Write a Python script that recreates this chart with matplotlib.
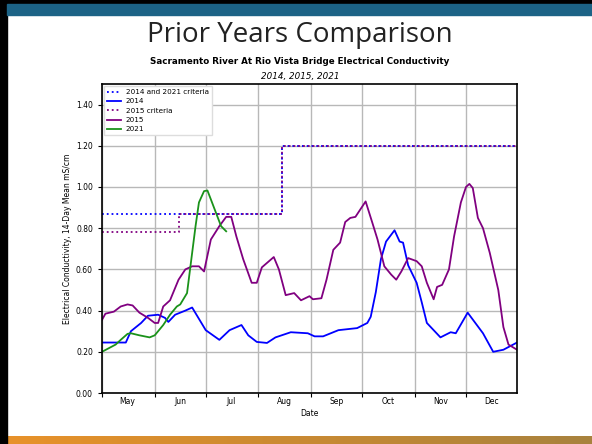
import numpy as np
import pandas as pd
import matplotlib
matplotlib.use("Agg")
import matplotlib.pyplot as plt
import matplotlib.dates as mdates
from matplotlib.patches import Rectangle
from matplotlib.colors import LinearSegmentedColormap

# values (month-day, mS/cm)
days_2014 = ["05-01", "05-15", "05-18", "05-24", "05-28", "06-03", "06-07", "06-09",
             "06-13", "06-19", "06-23", "06-27", "07-01", "07-09", "07-15", "07-22",
             "07-26", "07-31", "08-06", "08-11", "08-20", "08-30", "09-03", "09-08",
             "09-17", "09-28", "10-04", "10-06", "10-09", "10-12", "10-15", "10-20",
             "10-23", "10-25", "10-28", "11-02", "11-05", "11-08", "11-16", "11-22",
             "11-25", "12-02", "12-11", "12-17", "12-23", "12-31"]
ec_2014 = [0.245, 0.245, 0.30, 0.34, 0.375, 0.38, 0.365, 0.345,
           0.38, 0.40, 0.415, 0.36, 0.305, 0.258, 0.305, 0.33,
           0.28, 0.248, 0.243, 0.27, 0.295, 0.29, 0.275, 0.275,
           0.305, 0.315, 0.34, 0.37, 0.49, 0.65, 0.735, 0.79,
           0.735, 0.73, 0.62, 0.535, 0.44, 0.34, 0.27, 0.295,
           0.29, 0.39, 0.29, 0.20, 0.21, 0.245]

days_2015 = ["05-01", "05-03", "05-08", "05-12", "05-16", "05-19", "05-23", "05-28",
             "06-01", "06-03", "06-06", "06-10", "06-15", "06-19", "06-23", "06-27",
             "06-30", "07-04", "07-09", "07-13", "07-16", "07-19", "07-23", "07-28",
             "07-31", "08-03", "08-10", "08-13", "08-17", "08-22", "08-26", "08-31",
             "09-02", "09-07", "09-10", "09-14", "09-18", "09-21", "09-24", "09-27",
             "10-03", "10-07", "10-10", "10-14", "10-18", "10-21", "10-24", "10-28",
             "11-02", "11-05", "11-08", "11-12", "11-14", "11-17", "11-21", "11-24",
             "11-28", "12-01", "12-03", "12-05", "12-08", "12-11", "12-15", "12-20",
             "12-23", "12-26", "12-31"]
ec_2015 = [0.355, 0.385, 0.395, 0.42, 0.43, 0.425, 0.39, 0.365,
           0.34, 0.34, 0.42, 0.45, 0.55, 0.60, 0.615, 0.615,
           0.59, 0.745, 0.81, 0.855, 0.855, 0.76, 0.65, 0.535,
           0.535, 0.61, 0.66, 0.60, 0.475, 0.485, 0.45, 0.47,
           0.455, 0.46, 0.55, 0.695, 0.73, 0.83, 0.85, 0.855,
           0.93, 0.825, 0.745, 0.615, 0.575, 0.55, 0.59, 0.655,
           0.64, 0.615, 0.535, 0.455, 0.515, 0.525, 0.60, 0.76,
           0.925, 1.00, 1.015, 0.995, 0.85, 0.80, 0.68, 0.50,
           0.32, 0.235, 0.21]

days_2021 = ["05-01", "05-09", "05-12", "05-16", "05-18", "05-23", "05-29", "06-01",
             "06-06", "06-10", "06-14", "06-16", "06-20", "06-23", "06-25", "06-27",
             "06-30", "07-02", "07-04", "07-07", "07-10", "07-13"]
ec_2021 = [0.20, 0.235, 0.258, 0.287, 0.29, 0.28, 0.27, 0.28,
           0.33, 0.38, 0.42, 0.43, 0.485, 0.68, 0.81, 0.925,
           0.98, 0.983, 0.94, 0.875, 0.81, 0.785]

crit_days_14_21 = ["05-01", "08-15", "12-31"]
crit_14_21 = [0.87, 1.20, 1.20]
crit_days_15 = ["05-01", "06-15", "08-15", "12-31"]
crit_15 = [0.78, 0.87, 1.20, 1.20]


def to_dates(days):
    return pd.to_datetime(["2015-" + d for d in days])


fig = plt.figure(figsize=(5.92, 4.44), dpi=100)
W, H = 592, 444

# slide decorations
fig.patches.append(Rectangle((0, 0), 7 / W, 1, transform=fig.transFigure,
                             color="black", zorder=0))
fig.patches.append(Rectangle((0, 440 / H), 1, 4 / H, transform=fig.transFigure,
                             color="black", zorder=0))
fig.patches.append(Rectangle((7 / W, 429 / H), 1, 11 / H, transform=fig.transFigure,
                             color="#1c6386", zorder=0))
bar = fig.add_axes([7 / W, 0, 1 - 7 / W, 8 / H])
bar.imshow(np.linspace(0, 1, 256).reshape(1, -1), aspect="auto",
           cmap=LinearSegmentedColormap.from_list("slide", ["#e8922a", "#c98a33", "#a8823e"]))
bar.axis("off")

fig.text(0.507, 409 / H, "Prior Years Comparison", ha="center", va="center",
         fontsize=20, family="Open Sans", color="#222222")
fig.text(0.507, 383 / H, "Sacramento River At Rio Vista Bridge Electrical Conductivity",
         ha="center", va="center", fontsize=6.3, fontweight="bold")
fig.text(0.507, 367 / H, "2014, 2015, 2021", ha="center", va="center",
         fontsize=6.3, style="italic")

ax = fig.add_axes([102 / W, 51 / H, 415 / W, 309 / H])

ax.plot(to_dates(crit_days_14_21), crit_14_21, color="blue", ls=":", lw=1.3,
        drawstyle="steps-post", label="2014 and 2021 criteria")
ax.plot(to_dates(days_2014), ec_2014, color="blue", lw=1.3, label="2014")
ax.plot(to_dates(crit_days_15), crit_15, color="purple", ls=":", lw=1.3,
        drawstyle="steps-post", label="2015 criteria")
ax.plot(to_dates(days_2015), ec_2015, color="purple", lw=1.3, label="2015")
ax.plot(to_dates(days_2021), ec_2021, color="#1a921a", lw=1.3, label="2021")

ax.set_xlim(pd.Timestamp("2015-05-01"), pd.Timestamp("2015-12-31"))
ax.set_ylim(0, 1.5)
ax.set_yticks(np.arange(0, 1.41, 0.2))
ax.yaxis.set_major_formatter(plt.FormatStrFormatter("%.2f"))

ax.xaxis.set_major_locator(mdates.MonthLocator())
ax.xaxis.set_major_formatter(plt.NullFormatter())
ax.xaxis.set_minor_locator(mdates.MonthLocator(bymonthday=16))
ax.xaxis.set_minor_formatter(mdates.DateFormatter("%b"))
ax.tick_params(axis="x", which="minor", length=0, labelsize=5.5, pad=3)
ax.tick_params(axis="both", which="major", labelsize=5.5, length=3, width=0.8)

ax.grid(True, which="major", color="#b8b8b8", lw=1)
for s in ax.spines.values():
    s.set_linewidth(1.2)

ax.set_xlabel("Date", fontsize=5.5, labelpad=2)
ax.set_ylabel("Electrical Conductivity, 14-Day Mean mS/cm", fontsize=5.5, labelpad=3)

ax.legend(loc="upper left", fontsize=5.2, handlelength=1.9, borderpad=0.4,
          labelspacing=0.45, handletextpad=0.7, framealpha=1, fancybox=False,
          edgecolor="#dddddd", borderaxespad=0.3)

fig.savefig("out.png", dpi=100)
